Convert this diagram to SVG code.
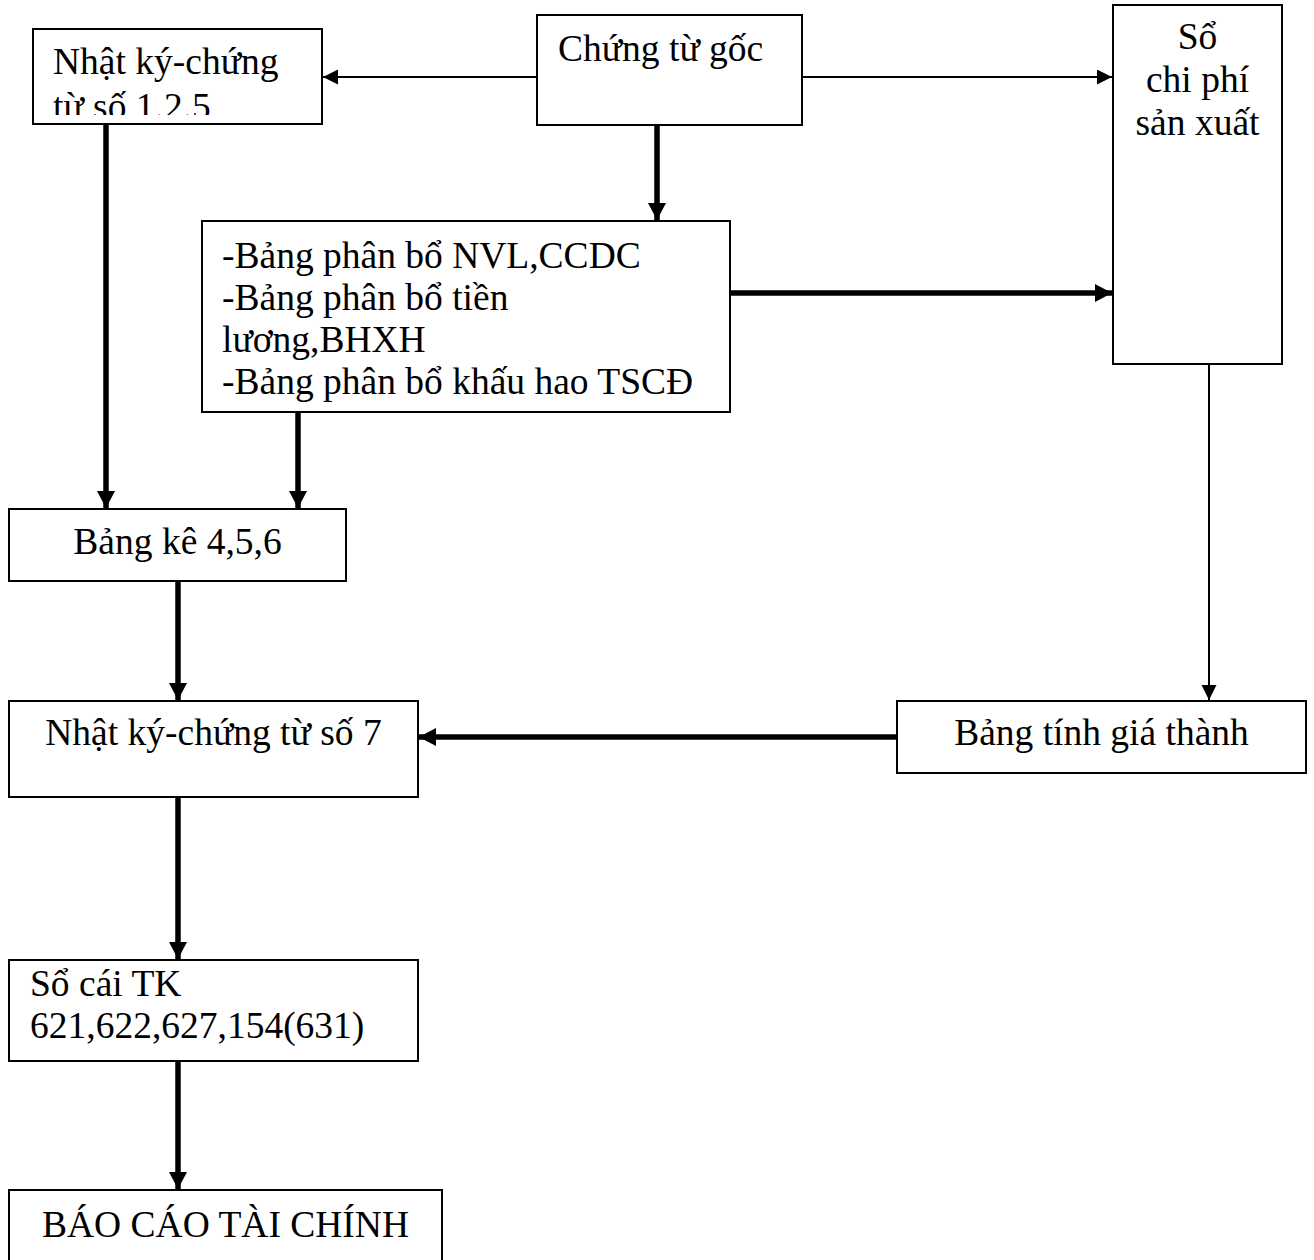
<svg xmlns="http://www.w3.org/2000/svg" width="1314" height="1260" viewBox="0 0 1314 1260">
<style>
.box{fill:#fff;stroke:#000;stroke-width:2}
.t{font-family:"Liberation Serif","Times New Roman",serif;font-size:37.5px;fill:#000}
.c{text-anchor:middle}
.thin{stroke:#000;stroke-width:2;fill:none}
.thick{stroke:#000;stroke-width:5.5;fill:none}
</style>
<defs>
<marker id="ah" markerUnits="userSpaceOnUse" markerWidth="16" markerHeight="16" refX="15" refY="7.5" orient="auto">
<path d="M0,0 L15,7.5 L0,15 Z" fill="#000"/>
</marker>
<marker id="ahb" markerUnits="userSpaceOnUse" markerWidth="20" markerHeight="20" refX="17" refY="9" orient="auto">
<path d="M0,0 L17,9 L0,18 Z" fill="#000"/>
</marker>
<clipPath id="clip1"><rect x="33" y="29" width="289" height="86"/></clipPath>
</defs>
<g id="connectors">
<line class="thin" x1="537" y1="77" x2="323" y2="77" marker-end="url(#ah)"/>
<line class="thin" x1="802" y1="77" x2="1112" y2="77" marker-end="url(#ah)"/>
<line class="thick" x1="657" y1="125" x2="657" y2="220" marker-end="url(#ahb)"/>
<line class="thick" x1="730" y1="293" x2="1112" y2="293" marker-end="url(#ahb)"/>
<line class="thick" x1="106" y1="124" x2="106" y2="508" marker-end="url(#ahb)"/>
<line class="thick" x1="298" y1="412" x2="298" y2="508" marker-end="url(#ahb)"/>
<line class="thin" x1="1209" y1="364" x2="1209" y2="700" marker-end="url(#ah)"/>
<line class="thick" x1="178" y1="581" x2="178" y2="700" marker-end="url(#ahb)"/>
<line class="thick" x1="897" y1="737" x2="419" y2="737" marker-end="url(#ahb)"/>
<line class="thick" x1="178" y1="797" x2="178" y2="959" marker-end="url(#ahb)"/>
<line class="thick" x1="178" y1="1061" x2="178" y2="1189" marker-end="url(#ahb)"/>
</g>
<g id="n-nkct125">
<rect class="box" x="33" y="29" width="289" height="95"/>
<g clip-path="url(#clip1)">
<text class="t" x="53" y="74">Nhật ký-chứng</text>
<text class="t" x="53" y="119">từ số 1.2.5</text>
</g>
</g>
<g id="n-chungtugoc">
<rect class="box" x="537" y="15" width="265" height="110"/>
<text class="t" x="558" y="61">Chứng từ gốc</text>
</g>
<g id="n-sochiphi">
<rect class="box" x="1113" y="5" width="169" height="359"/>
<text class="t c" x="1197.5" y="49">Sổ</text>
<text class="t c" x="1197.5" y="92">chi phí</text>
<text class="t c" x="1197.5" y="135">sản xuất</text>
</g>
<g id="n-bangphanbo">
<rect class="box" x="202" y="221" width="528" height="191"/>
<text class="t" x="222" y="268">-Bảng phân bổ NVL,CCDC</text>
<text class="t" x="222" y="310">-Bảng phân bổ tiền</text>
<text class="t" x="222" y="352">lương,BHXH</text>
<text class="t" x="222" y="394">-Bảng phân bổ khấu hao TSCĐ</text>
</g>
<g id="n-bangke">
<rect class="box" x="9" y="509" width="337" height="72"/>
<text class="t c" x="177.5" y="554">Bảng kê 4,5,6</text>
</g>
<g id="n-nkct7">
<rect class="box" x="9" y="701" width="409" height="96"/>
<text class="t c" x="213.5" y="745">Nhật ký-chứng từ số 7</text>
</g>
<g id="n-bangtinh">
<rect class="box" x="897" y="701" width="409" height="72"/>
<text class="t c" x="1101.5" y="745">Bảng tính giá thành</text>
</g>
<g id="n-socai">
<rect class="box" x="9" y="960" width="409" height="101"/>
<text class="t" x="30" y="996">Sổ cái TK</text>
<text class="t" x="30" y="1038">621,622,627,154(631)</text>
</g>
<g id="n-baocao">
<rect class="box" x="9" y="1190" width="433" height="90"/>
<text class="t c" x="225.5" y="1237">BÁO CÁO TÀI CHÍNH</text>
</g>
</svg>
